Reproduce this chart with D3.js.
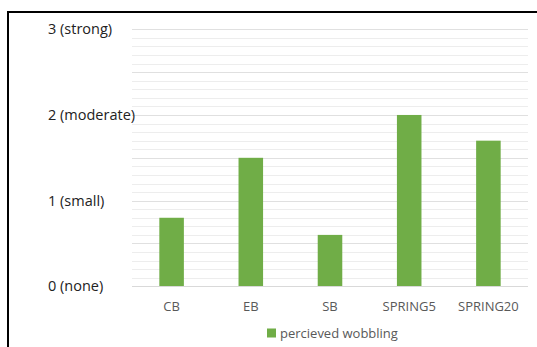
<!DOCTYPE html>
<html><head><meta charset="utf-8">
<script src="https://cdn.jsdelivr.net/npm/d3@7"></script>
<style>body{margin:0;background:#fff;overflow:hidden}svg{display:block}</style>
</head><body>
<script>
const categories = ["CB","EB","SB","SPRING5","SPRING20"];
const values = [0.8, 1.5, 0.6, 2.0, 1.7];
const yTicks = [0,1,2,3];
const yTickLabels = ["0 (none)","1 (small)","2 (moderate)","3 (strong)"];
const seriesName = "percieved wobbling";

const W = 537, H = 347;
const svg = d3.select("body").append("svg").attr("width", W).attr("height", H);
svg.append("line").attr("x1", 7).attr("x2", W).attr("y1", 12).attr("y2", 12)
  .attr("stroke", "#000").attr("stroke-width", 2);
svg.append("line").attr("x1", 8).attr("x2", 8).attr("y1", 11).attr("y2", H)
  .attr("stroke", "#000").attr("stroke-width", 2);

const x = d3.scaleBand().domain(categories).range([132, 528]).paddingInner(0.69).paddingOuter(0.345);
const y = d3.scaleLinear().domain([0, 3]).range([286.3, 29.3]);

const minor = d3.range(0, 31).map(i => i / 10);
svg.append("g").selectAll("line").data(minor).join("line")
  .attr("x1", 132).attr("x2", 528)
  .attr("y1", d => Math.round(y(d)) + 0.5).attr("y2", d => Math.round(y(d)) + 0.5)
  .attr("stroke", d => (Math.round(d * 10) % 5 === 0) ? "#e0e0e0" : "#ededed")
  .attr("stroke-width", 1);

svg.append("g").selectAll("rect").data(values).join("rect")
  .attr("x", (d, i) => x(categories[i]))
  .attr("width", x.bandwidth())
  .attr("y", d => y(d))
  .attr("height", d => y(0) - y(d))
  .attr("fill", "#70AD47");

svg.append("line").attr("x1", 132).attr("x2", 528).attr("y1", 286.5).attr("y2", 286.5)
  .attr("stroke", "#d9d9d9");

svg.append("g").selectAll("text").data(yTicks).join("text")
  .attr("x", 48).attr("y", d => y(d)).attr("dy", "0.35em")
  .attr("font-family", "Open Sans, sans-serif").attr("font-size", 14.5)
  .attr("fill", "#222")
  .text((d, i) => yTickLabels[i]);

svg.append("g").selectAll("text").data(categories).join("text")
  .attr("x", d => x(d) + x.bandwidth() / 2).attr("y", 306).attr("dy", "0.35em")
  .attr("text-anchor", "middle")
  .attr("font-family", "Open Sans, sans-serif").attr("font-size", 13)
  .attr("fill", "#595959")
  .text(d => d);

svg.append("rect").attr("x", 267).attr("y", 328.5).attr("width", 9).attr("height", 9).attr("fill", "#70AD47");
svg.append("text").attr("x", 280).attr("y", 333).attr("dy", "0.35em")
  .attr("font-family", "Open Sans, sans-serif").attr("font-size", 13)
  .attr("fill", "#595959").text(seriesName);
</script>
</body></html>
